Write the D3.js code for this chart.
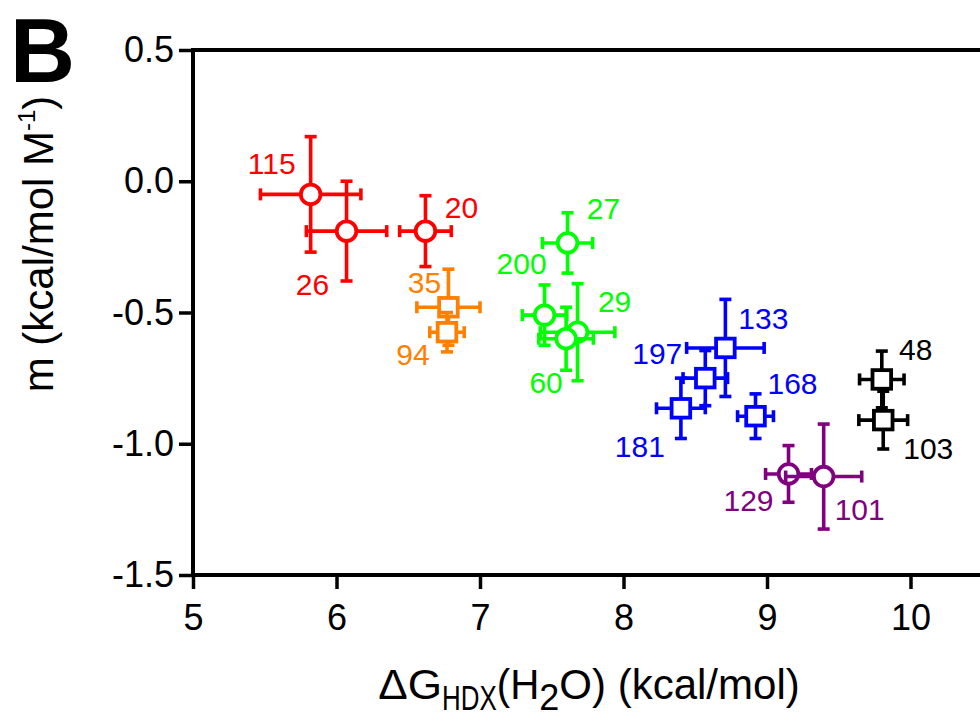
<!DOCTYPE html>
<html>
<head>
<meta charset="utf-8">
<script src="https://cdn.jsdelivr.net/npm/d3@7"></script>
<style>
  html, body { margin: 0; padding: 0; background: #fff; }
  svg { display: block; }
  text { font-family: "Liberation Sans", Arial, Helvetica, sans-serif; }
</style>
</head>
<body>
<svg id="chart" width="980" height="718"></svg>
<script>
// Residue labels and their measured values
const residues = ["115", "26", "20", "35", "94", "27", "200", "29", "60",
                  "133", "197", "181", "168", "48", "103", "129", "101"];
const dG      = [5.82, 6.07, 6.62, 6.78, 6.77, 7.61, 7.45, 7.68, 7.60,
                 8.71, 8.57, 8.40, 8.92, 9.80, 9.81, 9.15, 9.395];
const dGErr   = [0.35, 0.28, 0.18, 0.22, 0.12, 0.175, 0.155, 0.26, 0.19,
                 0.27, 0.155, 0.17, 0.125, 0.155, 0.17, 0.16, 0.265];
const mVal    = [-0.05, -0.19, -0.19, -0.48, -0.575, -0.235, -0.51, -0.575, -0.60,
                 -0.635, -0.75, -0.865, -0.895, -0.755, -0.91, -1.115, -1.125];
const mErr    = [0.22, 0.19, 0.135, 0.145, 0.075, 0.115, 0.115, 0.185, 0.12,
                 0.185, 0.105, 0.115, 0.085, 0.108, 0.11, 0.108, 0.2];
const groupOf = ["red", "red", "red", "orange", "orange", "green", "green", "green", "green",
                 "blue", "blue", "blue", "blue", "black", "black", "purple", "purple"];

// Axis ticks
const xTicks = [5, 6, 7, 8, 9, 10];
const yTicks = [0.5, 0.0, -0.5, -1.0, -1.5];

// Appearance per group
const groupColor = { red: "#ff0000", orange: "#ff8000", green: "#00ff00",
                     blue: "#0000ff", black: "#000000", purple: "#800080" };
const groupShape = { red: "circle", orange: "square", green: "circle",
                     blue: "square", black: "square", purple: "circle" };

// Label offsets (px) from each marker centre
const labelOffset = [[-39, -31], [-34, 53], [36, -24], [-24, -25], [-34, 22],
                     [36, -34], [-23, -52], [37, -31], [-20, 44],
                     [38, -29], [-48, -25], [-41, 38], [37, -33],
                     [34, -30], [45, 28], [-40, 27], [36, 33]];

const svg = d3.select("#chart");
const plotLeft = 193, plotTop = 50, plotBottom = 575, unitX = 143.5;

const x = d3.scaleLinear().domain([5, 11]).range([plotLeft, plotLeft + 6 * unitX]);
const y = d3.scaleLinear().domain([-1.5, 0.5]).range([plotBottom, plotTop]);

// Frame top line
svg.append("line")
  .attr("x1", plotLeft - 2).attr("x2", 980)
  .attr("y1", y(0.5)).attr("y2", y(0.5))
  .attr("stroke", "#000").attr("stroke-width", 4);

// Axes
const xAxis = svg.append("g")
  .attr("transform", `translate(0,${plotBottom})`)
  .call(d3.axisBottom(x).tickValues(xTicks).tickFormat(d => String(d))
          .tickSize(14).tickSizeOuter(0).tickPadding(15));
const yAxis = svg.append("g")
  .attr("transform", `translate(${plotLeft},0)`)
  .call(d3.axisLeft(y).tickValues(yTicks).tickFormat(d => d.toFixed(1))
          .tickSize(14).tickSizeOuter(0).tickPadding(5));

[xAxis, yAxis].forEach(g => {
  g.select(".domain").attr("stroke", "#000").attr("stroke-width", 4);
  g.selectAll(".tick line").attr("stroke", "#000").attr("stroke-width", 3.5);
  g.selectAll(".tick text").attr("fill", "#000")
    .style("font-size", "36px");
});
xAxis.select(".domain").attr("d", `M${plotLeft},0H980`);
yAxis.select(".domain").attr("d", `M0,${y(0.5)}V${plotBottom}`);

// Data points with error bars
const capHalf = 6;
const pts = residues.map((r, i) => ({
  label: r, x: dG[i], xe: dGErr[i], y: mVal[i], ye: mErr[i],
  color: groupColor[groupOf[i]], shape: groupShape[groupOf[i]], off: labelOffset[i]
}));

const marks = svg.append("g");
pts.forEach(p => {
  const g = marks.append("g")
    .attr("stroke", p.color).attr("stroke-width", 3.6).attr("fill", "none");
  const cx = x(p.x), cy = y(p.y);
  const x0 = x(p.x - p.xe), x1 = x(p.x + p.xe);
  const y0 = y(p.y + p.ye), y1 = y(p.y - p.ye);
  // horizontal bar + caps
  g.append("line").attr("x1", x0).attr("x2", x1).attr("y1", cy).attr("y2", cy);
  g.append("line").attr("x1", x0).attr("x2", x0).attr("y1", cy - capHalf).attr("y2", cy + capHalf);
  g.append("line").attr("x1", x1).attr("x2", x1).attr("y1", cy - capHalf).attr("y2", cy + capHalf);
  // vertical bar + caps
  g.append("line").attr("x1", cx).attr("x2", cx).attr("y1", y0).attr("y2", y1);
  g.append("line").attr("x1", cx - capHalf).attr("x2", cx + capHalf).attr("y1", y0).attr("y2", y0);
  g.append("line").attr("x1", cx - capHalf).attr("x2", cx + capHalf).attr("y1", y1).attr("y2", y1);
  // marker
  if (p.shape === "circle") {
    g.append("circle").attr("cx", cx).attr("cy", cy).attr("r", 9.8)
      .attr("fill", "#fff").attr("stroke-width", 3.8);
  } else {
    g.append("rect").attr("x", cx - 9.3).attr("y", cy - 9.3)
      .attr("width", 18.6).attr("height", 18.6)
      .attr("fill", "#fff").attr("stroke-width", 3.8);
  }
});

// Point labels
svg.append("g").selectAll("text").data(pts).join("text")
  .attr("x", p => x(p.x) + p.off[0])
  .attr("y", p => y(p.y) + p.off[1])
  .attr("text-anchor", "middle")
  .attr("dominant-baseline", "central")
  .attr("fill", p => p.color)
  .style("font-size", "30px")
  .text(p => p.label);

// X axis title, set piece by piece (subscripts are condensed)
const xTitleParts = [
  { t: "ΔG",            size: 42, dy: 0,  sx: 1.05 },
  { t: "HDX",           size: 36, dy: 11, sx: 0.72 },
  { t: "(H",            size: 42, dy: 0,  sx: 0.96 },
  { t: "2",             size: 36, dy: 11, sx: 1.0 },
  { t: "O) (kcal/mol)", size: 42, dy: 0,  sx: 1.0 }
];
const xTitle = svg.append("g");
let cursor = 0;
xTitleParts.forEach(part => {
  const t = xTitle.append("text")
    .style("font-size", part.size + "px").attr("fill", "#000")
    .text(part.t);
  const w = t.node().getComputedTextLength() * part.sx;
  t.attr("transform", `translate(${cursor},${part.dy}) scale(${part.sx},1)`);
  cursor += w;
});
xTitle.attr("transform", `translate(${589 - cursor / 2},699)`);

// Y axis title
const yt = svg.append("text")
  .attr("transform", "translate(53,244) rotate(-90)")
  .attr("text-anchor", "middle")
  .style("font-size", "42px").attr("fill", "#000");
yt.append("tspan").text("m (kcal/mol M");
yt.append("tspan").attr("dy", -18).style("font-size", "24px").text("-1");
yt.append("tspan").attr("dy", 18).text(")");

// Panel letter
svg.append("text")
  .attr("x", 10).attr("y", 82)
  .style("font-size", "90px").style("font-weight", "bold")
  .attr("fill", "#000")
  .text("B");
</script>
</body>
</html>
